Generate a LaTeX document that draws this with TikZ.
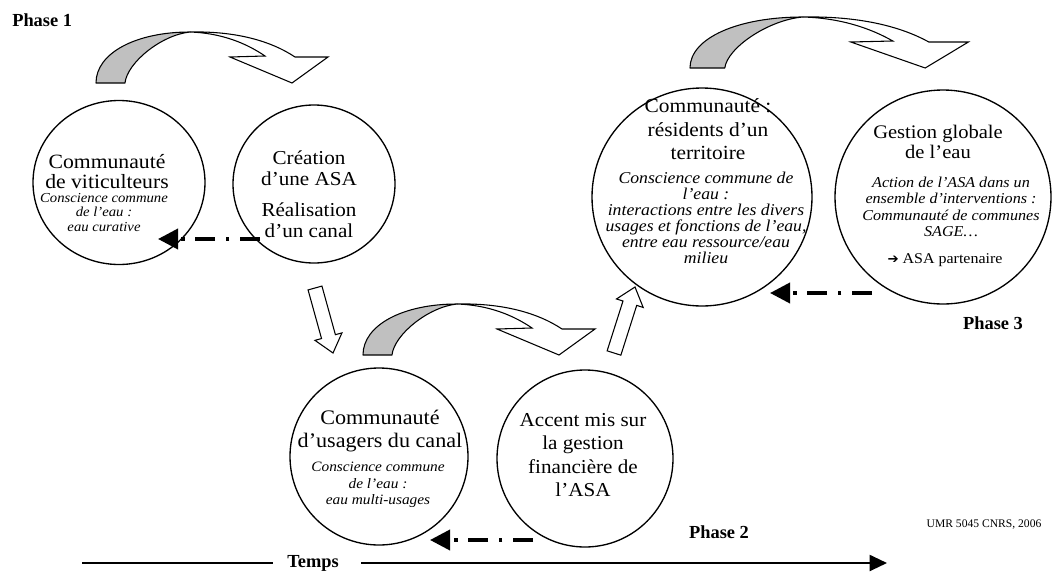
\documentclass[tikz,border=0pt]{standalone}
\usepackage{fontspec}
\setmainfont{Liberation Serif}[FakeStretch=1.07]
\newfontfamily\labelfont{Liberation Serif}
\newfontfamily\symfont{DejaVu Sans}
\usetikzlibrary{arrows.meta,calc,shapes.geometric}
\definecolor{arrgray}{RGB}{192,192,192}
\tikzset{
 bubble/.style={draw, ellipse, line width=1pt, inner sep=0pt},
 ttl/.style={align=center, inner sep=0pt},
 blockarr/.style={draw, fill=white, line width=0.8pt, line join=miter},
 fb/.style={line width=2.8pt, dash pattern=on 15pt off 8pt on 2.6pt off 8pt, -{Triangle[length=15pt,width=15pt]}},
 timeline/.style={line width=1.5pt},
 lbl/.style={font=\labelfont\bfseries\fontsize{13.8}{16}\selectfont, inner sep=0pt},
 carrgray/.style={fill=arrgray, draw, line width=0.8pt, line join=round},
 carrwhite/.style={fill=white, draw, line width=0.8pt, line join=miter}
}
\newcommand{\curvedarrow}[3]{%
 \begin{scope}[shift={(#1,#2)}, xscale=#3]
  \path[carrwhite] (94,-51) .. controls (140,-52) and (175,-42) .. (199,-26)
     -- (232,-26) -- (196,0) -- (134,-26) -- (169,-27)
     .. controls (150,-40) and (125,-50) .. (94,-51) -- cycle;
  \path[carrgray] (0,0) .. controls (0,-30) and (40,-51) .. (94,-51)
     .. controls (65,-48) and (31,-20) .. (29,0) -- cycle;
 \end{scope}}
\newcommand{\blockarrow}[2]{%
 \path ($(#2)!12.75pt!(#1)$) coordinate (hb);
 \draw[blockarr] ($(#1)!5.4pt!90:(#2)$) -- ($(hb)!5.4pt!90:(#2)$) -- ($(hb)!10.5pt!90:(#2)$)
   -- (#2) -- ($(hb)!10.5pt!-90:(#2)$) -- ($(hb)!5.4pt!-90:(#2)$) -- ($(#1)!5.4pt!-90:(#2)$) -- cycle;}
\begin{document}
\begin{tikzpicture}[x=0.75pt,y=-0.75pt]
\useasboundingbox[fill=white] (0,0) rectangle (1053,582);
% curved arrows
\curvedarrow{96}{83}{1}
\curvedarrow{363}{355}{1}
\curvedarrow{690}{68}{1.2}
% circles
\node[bubble, minimum width=129pt, minimum height=123pt] (c1) at (119,182.5) {};
\node[bubble, minimum width=121.5pt, minimum height=118.5pt] (c2) at (314,184) {};
\node[bubble, minimum width=165pt, minimum height=163.5pt] (c3) at (702,197) {};
\node[bubble, minimum width=162pt, minimum height=160.5pt] (c4) at (943,197) {};
\node[bubble, minimum width=133.5pt, minimum height=132.75pt] (c5) at (379,456.5) {};
\node[bubble, minimum width=132pt, minimum height=132.75pt] (c6) at (585,458.5) {};
% texts
\node[ttl, font=\fontsize{15.2}{15}\selectfont] (t1) at (107,172) {Communauté\\de viticulteurs};
\node[ttl, font=\itshape\fontsize{10.3}{11}\selectfont] (s1) at (104,212.5) {Conscience commune\\de l’eau :\\eau curative};
\node[ttl, font=\fontsize{14.8}{15.75}\selectfont] (t2) at (309,194) {Création\\d’une ASA\\[7.5pt]Réalisation\\d’un canal};
\node[ttl, font=\fontsize{15}{17.6}\selectfont] (t3) at (708,129.5) {Communauté :\\résidents d’un\\territoire};
\node[ttl, font=\itshape\fontsize{12.4}{12}\selectfont] (s3) at (706,218) {Conscience commune de\\l’eau :\\interactions entre les divers\\usages et fonctions de l’eau,\\entre eau ressource/eau\\milieu};
\node[ttl, font=\fontsize{14.4}{15}\selectfont] (t4) at (938,142) {Gestion globale\\de l’eau};
\node[ttl, font=\itshape\fontsize{11.3}{12.4}\selectfont] (s4) at (951,207) {Action de l’ASA dans un\\ensemble d’interventions :\\Communauté de communes\\SAGE…};
\node[ttl, font=\fontsize{11.2}{12}\selectfont] (p4) at (945,260) {{\symfont\fontsize{10}{12}\selectfont ➔} ASA partenaire};
\node[ttl, font=\fontsize{15.5}{17.3}\selectfont] (t5) at (380,431.5) {Communauté\\d’usagers du canal};
\node[ttl, font=\itshape\fontsize{10.75}{12.5}\selectfont] (s5) at (378,485) {Conscience commune\\de l’eau :\\eau multi-usages};
\node[ttl, font=\fontsize{14.8}{17.5}\selectfont] (t6) at (583,455) {Accent mis sur\\la gestion\\financière de\\l’ASA};
% labels
\node[lbl, anchor=west] (ph1) at (12,20) {Phase 1};
\node[lbl] (ph2) at (719,532) {Phase 2};
\node[lbl] (ph3) at (993,323) {Phase 3};
\node[inner sep=0pt, font=\labelfont\fontsize{8.7}{10}\selectfont] (umr) at (984,525) {UMR 5045 CNRS, 2006};
% block arrows
\coordinate (da1) at (315,288); \coordinate (da2) at (333,353);
\coordinate (ua1) at (614,353); \coordinate (ua2) at (635,287);
\blockarrow{da1}{da2}
\blockarrow{ua1}{ua2}
% feedback arrows
\coordinate (f1s) at (260,239); \coordinate (f1e) at (158,239);
\coordinate (f2s) at (872,293); \coordinate (f2e) at (770,293);
\coordinate (f3s) at (533,540); \coordinate (f3e) at (430,540);
\draw[fb] (f1s) -- (f1e);
\draw[fb] (f2s) -- (f2e);
\draw[fb] (f3s) -- (f3e);
% timeline
\node[lbl] (temps) at (313,563) {Temps};
\coordinate (tl0) at (82,563); \coordinate (tl1) at (887,563);
\draw[timeline] (tl0) -- ([xshift=-10.5pt]temps.west);
\draw[timeline, -{Triangle[length=13pt,width=12pt]}] ([xshift=16.5pt]temps.east) -- (tl1);
\end{tikzpicture}
\end{document}
